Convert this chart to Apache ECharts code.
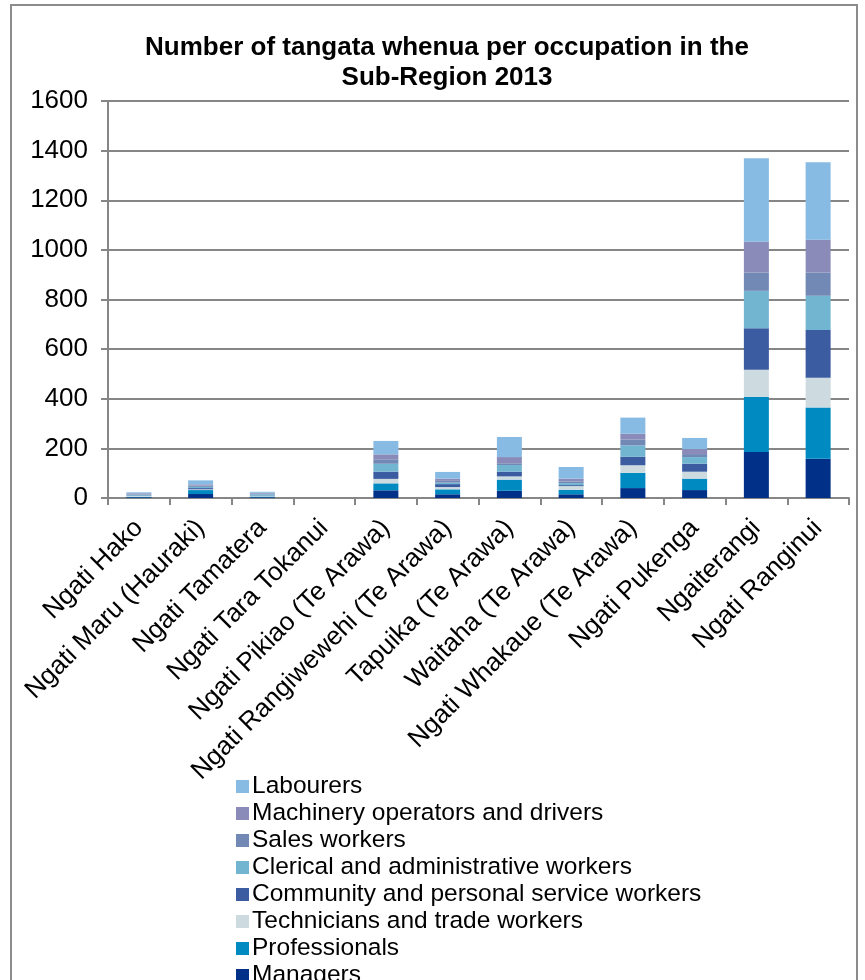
<!DOCTYPE html>
<html>
<head>
<meta charset="utf-8">
<script src="https://cdn.jsdelivr.net/npm/echarts@6/dist/echarts.min.js"></script>
<style>
  html, body { margin: 0; padding: 0; background: #fff; }
  #frame { position: absolute; left: 10px; top: 4px; width: 848px; height: 990px; border: 2px solid #8c8c8c; box-sizing: border-box; pointer-events: none; }
  #chart { width: 865px; height: 980px; }
</style>
</head>
<body>
<div id="chart"></div>
<div id="frame"></div>
<script>
// categories (iwi)
const iwi = ["Ngati Hako", "Ngati Maru (Hauraki)", "Ngati Tamatera", "Ngati Tara Tokanui",
  "Ngati Pikiao (Te Arawa)", "Ngati Rangiwewehi (Te Arawa)", "Tapuika (Te Arawa)",
  "Waitaha (Te Arawa)", "Ngati Whakaue (Te Arawa)", "Ngati Pukenga", "Ngaiterangi", "Ngati Ranginui"];

// values, bottom of stack first
const managers      = [3, 16, 3, 0, 31, 15, 29, 15, 40, 32, 185, 158];
const professionals = [2, 16, 3, 0, 28, 20, 45, 18, 61, 46, 222, 207];
const technicians   = [3, 3, 2, 0, 18, 9, 13, 15, 31, 28, 110, 120];
const community     = [2, 5, 2, 0, 29, 12, 19, 4, 34, 32, 167, 192];
const clerical      = [3, 5, 5, 0, 32, 6, 27, 8, 46, 27, 151, 138];
const sales         = [2, 5, 3, 0, 18, 7, 7, 7, 24, 12, 74, 94];
const machinery     = [4, 5, 3, 0, 20, 9, 25, 11, 23, 20, 124, 132];
const labourers     = [4, 16, 4, 0, 54, 27, 81, 47, 65, 45, 336, 312];

const yTicks = [0, 200, 400, 600, 800, 1000, 1200, 1400, 1600];

const layers = [
  { name: "Managers", data: managers, color: "#003087" },
  { name: "Professionals", data: professionals, color: "#008ac2" },
  { name: "Technicians and trade workers", data: technicians, color: "#cddbe1" },
  { name: "Community and personal service workers", data: community, color: "#3b5ca0" },
  { name: "Clerical and administrative workers", data: clerical, color: "#72b5d1" },
  { name: "Sales workers", data: sales, color: "#7289b5" },
  { name: "Machinery operators and drivers", data: machinery, color: "#8a8bb8" },
  { name: "Labourers", data: labourers, color: "#88bbe3" }
];

const font = "Liberation Sans, Arial, sans-serif";
const chart = echarts.init(document.getElementById("chart"));

chart.setOption({
  animation: false,
  textStyle: { fontFamily: font },
  title: {
    text: "Number of tangata whenua per occupation in the\nSub-Region 2013",
    left: 442,
    textAlign: "center",
    top: 28,
    textStyle: { fontSize: 26, fontWeight: "bold", color: "#000", lineHeight: 30, fontFamily: font }
  },
  legend: {
    orient: "vertical",
    left: 236,
    top: 774,
    height: 260,
    padding: 0,
    itemWidth: 13,
    itemHeight: 13,
    itemGap: 2,
    icon: "rect",
    data: layers.map(l => l.name).reverse(),
    textStyle: { fontSize: 24.5, lineHeight: 24, color: "#000", padding: [0, 0, 0, -2], fontFamily: font }
  },
  grid: { left: 108, right: 16, top: 101, bottom: 482, containLabel: false },
  xAxis: {
    type: "category",
    data: iwi,
    axisLine: { lineStyle: { color: "#868686", width: 2 } },
    axisTick: { show: true, length: 7, lineStyle: { color: "#868686", width: 2 } },
    axisLabel: { rotate: 45, fontSize: 26, color: "#000", margin: 26, interval: 0, fontFamily: font }
  },
  yAxis: {
    type: "value",
    min: 0,
    max: yTicks[yTicks.length - 1],
    interval: 200,
    axisLine: { show: true, lineStyle: { color: "#868686", width: 2 } },
    axisTick: { show: true, length: 7, lineStyle: { color: "#868686", width: 2 } },
    axisLabel: { fontSize: 26, color: "#000", margin: 20, fontFamily: font, formatter: v => String(v) },
    splitLine: { lineStyle: { color: "#868686", width: 2 } }
  },
  series: layers.map(l => ({
    name: l.name,
    type: "bar",
    stack: "total",
    data: l.data,
    barWidth: 25,
    itemStyle: { color: l.color }
  }))
});
</script>
</body>
</html>
